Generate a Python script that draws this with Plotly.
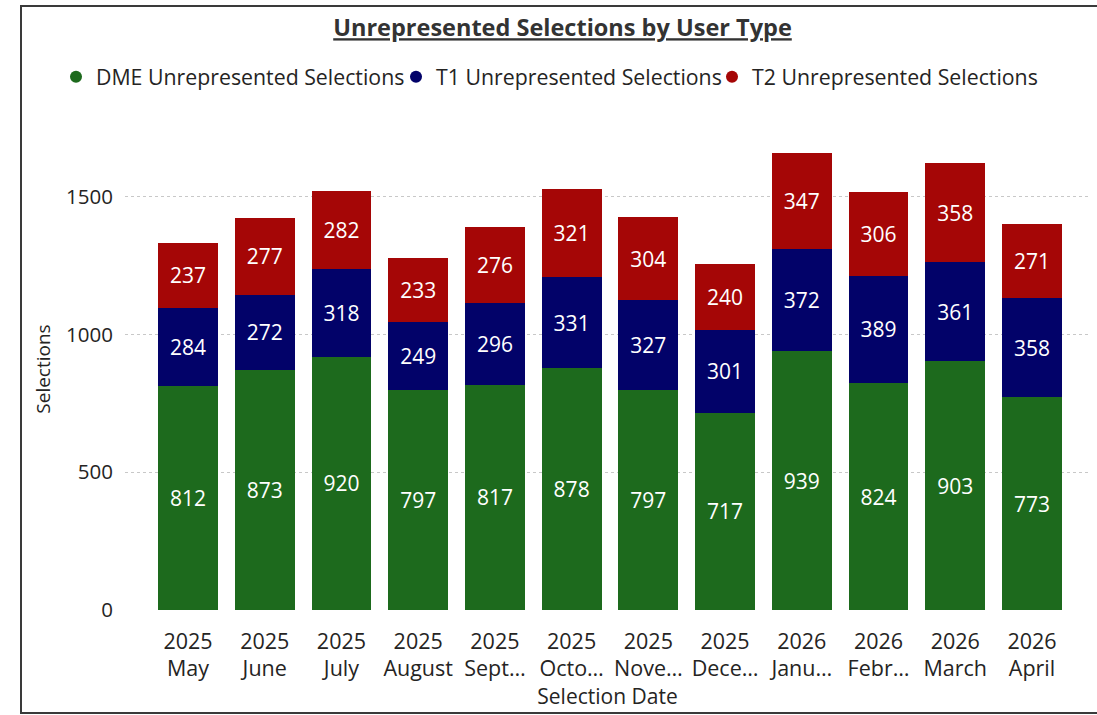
import plotly.graph_objects as go

categories = ["2025<br>May", "2025<br>June", "2025<br>July", "2025<br>August", "2025<br>Sept…",
              "2025<br>Octo…", "2025<br>Nove…", "2025<br>Dece…", "2026<br>Janu…", "2026<br>Febr…",
              "2026<br>March", "2026<br>April"]
dme = [812, 873, 920, 797, 817, 878, 797, 717, 939, 824, 903, 773]
t1 = [284, 272, 318, 249, 296, 331, 327, 301, 372, 389, 361, 358]
t2 = [237, 277, 282, 233, 276, 321, 304, 240, 347, 306, 358, 271]

series = [
    ("DME Unrepresented Selections", dme, "#1D6A1D"),
    ("T1 Unrepresented Selections", t1, "#020269"),
    ("T2 Unrepresented Selections", t2, "#A50606"),
]
legend_ids = ["legend", "legend2", "legend3"]
legend_left_px = [56, 396, 712]

FONT = "Segoe UI, Open Sans, sans-serif"
TXT = "#252423"
W, H = 1097, 715
L, R, T, B = 125, 7, 128, 105
PW, PH = W - L - R, H - T - B

fig = go.Figure()
xs = list(range(len(categories)))
for name, vals, col in series:
    fig.add_trace(go.Bar(
        x=xs, y=vals, name=name, marker=dict(color=col, line=dict(width=0)),
        text=[str(v) for v in vals], textposition="inside", insidetextanchor="middle",
        textfont=dict(color="white", size=21, family=FONT), showlegend=False,
        constraintext="none",
    ))
for (name, vals, col), lid in zip(series, legend_ids):
    fig.add_trace(go.Scatter(
        x=[None], y=[None], mode="markers", name=name, legend=lid,
        marker=dict(color=col, size=16, symbol="circle"), showlegend=True,
    ))

legend_common = dict(orientation="h", xref="container", yref="container",
                     y=1 - 77 / H, yanchor="middle", xanchor="left",
                     font=dict(size=21.3, color=TXT, family=FONT), itemsizing="constant",
                     bgcolor="rgba(0,0,0,0)", borderwidth=0)
legends = {}
for lid, lx in zip(legend_ids, legend_left_px):
    legends[lid] = dict(legend_common, x=lx / W)

fig.update_layout(
    width=W, height=H,
    barmode="stack", bargap=0.22,
    paper_bgcolor="white", plot_bgcolor="white",
    font=dict(family=FONT, color=TXT, size=20),
    margin=dict(l=L, r=R, t=T, b=B, autoexpand=False),
    title=dict(text="<b><u>Unrepresented Selections by User Type</u></b>",
               xref="container", yref="container",
               x=562.5 / W, xanchor="center", y=1 - 28 / H, yanchor="middle",
               font=dict(size=23.5, color="#333333", family=FONT)),
    **legends,
    xaxis=dict(tickmode="array", tickvals=xs, ticktext=categories,
               range=[-0.821, 11.756], showgrid=False, zeroline=False, showline=False,
               ticks="", tickfont=dict(size=21.5, color=TXT), ticklabelstandoff=16,
               automargin=False,
               title=dict(text="Selection Date", font=dict(size=21, color=TXT), standoff=2)),
    yaxis=dict(range=[0, 1750], tickvals=[0, 500, 1000, 1500], showgrid=True,
               gridcolor="#C8C8C8", griddash="dot", gridwidth=1, zeroline=False,
               showline=False, ticks="", tickfont=dict(size=20.5, color=TXT),
               ticklabelstandoff=11, automargin=False,
               title=dict(text="Selections", font=dict(size=19, color=TXT), standoff=10)),
    shapes=[dict(type="rect", xref="paper", yref="paper",
                 x0=(21 - L) / PW, x1=(1110 - L) / PW,
                 y0=(H - B - 713) / PH, y1=(H - B - 6) / PH,
                 line=dict(color="#3A3A3A", width=2), fillcolor="rgba(0,0,0,0)", layer="below")],
)

fig.write_html("out.html", config={"displayModeBar": False},
               post_script="document.body.style.margin='0px';document.body.style.overflow='hidden';")
